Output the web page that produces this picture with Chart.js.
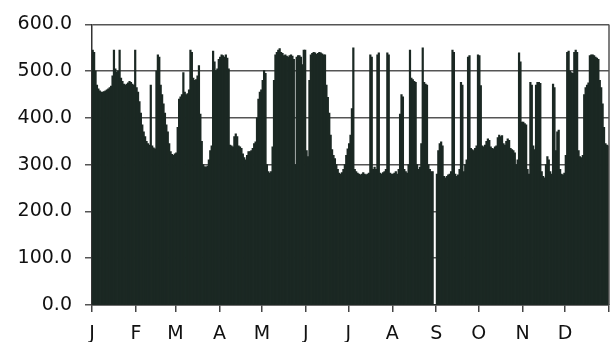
<!DOCTYPE html>
<html>
<head>
<meta charset="utf-8">
<script src="https://cdn.jsdelivr.net/npm/chart.js@4/dist/chart.umd.min.js"></script>
<style>
  html, body { margin: 0; padding: 0; background: #fff; }
</style>
</head>
<body>
<canvas id="grafico" width="611" height="342"></canvas>
<script>
// valores diarios, um array por mes
const jan = [545, 540, 500, 470, 462, 458, 455, 455, 456, 458, 460, 462, 465, 468, 490, 545, 505, 498, 500, 545, 485, 478, 472, 470, 472, 475, 478, 476, 472, 470, 545];
const fev = [465, 455, 435, 410, 385, 370, 360, 350, 345, 342, 470, 340, 336, 334, 500, 535, 530, 470, 450, 430, 410, 385, 370, 345, 328, 322, 320, 323];
const mar = [325, 380, 440, 445, 450, 497, 455, 450, 452, 460, 545, 540, 485, 480, 482, 490, 512, 408, 350, 300, 296, 295, 297, 310, 330, 340, 543, 520, 501, 505, 525];
const abr = [530, 535, 533, 530, 535, 528, 505, 342, 340, 338, 360, 366, 360, 340, 338, 335, 323, 315, 310, 320, 328, 328, 330, 335, 345, 349, 400, 440, 455, 460];
const mai = [480, 501, 495, 300, 285, 282, 285, 338, 480, 535, 540, 545, 548, 540, 538, 533, 535, 532, 530, 533, 535, 532, 525, 300, 530, 533, 533, 530, 514, 545, 545];
const jun = [330, 317, 480, 535, 538, 540, 539, 536, 538, 540, 539, 537, 535, 535, 470, 444, 410, 363, 332, 320, 313, 300, 290, 282, 280, 283, 290, 300, 320, 334];
const jul = [345, 363, 420, 550, 290, 285, 282, 280, 278, 280, 283, 280, 278, 280, 282, 535, 530, 290, 295, 290, 535, 539, 282, 280, 283, 285, 290, 539, 535, 282, 280];
const ago = [280, 282, 285, 280, 290, 408, 450, 445, 290, 285, 282, 300, 545, 485, 482, 478, 476, 300, 290, 295, 345, 550, 476, 472, 470, 300, 290, 285, 285, 0, 0];
const set = [280, 330, 345, 349, 340, 275, 272, 275, 278, 280, 285, 545, 540, 280, 275, 278, 290, 476, 470, 285, 300, 310, 530, 533, 335, 332, 330, 335, 340, 535];
const out = [533, 469, 340, 338, 342, 350, 355, 352, 338, 335, 334, 338, 340, 358, 363, 360, 362, 345, 342, 350, 355, 352, 335, 332, 330, 325, 300, 310, 539, 520, 391];
const nov = [391, 388, 385, 290, 280, 476, 470, 340, 332, 470, 476, 476, 474, 285, 275, 272, 300, 317, 310, 285, 280, 472, 465, 330, 370, 374, 290, 280, 278, 282];
const dez = [320, 540, 543, 500, 497, 495, 540, 545, 540, 330, 317, 315, 320, 450, 465, 470, 475, 533, 535, 535, 533, 530, 528, 525, 480, 465, 430, 380, 345, 342, 340];

// inicio de cada mes (dia do ano) e rotulos do eixo
const inicioMes = [0, 31, 59, 90, 120, 151, 181, 212, 243, 273, 304, 334, 365];
const rotulosMes = ["J", "F", "M", "A", "M", "J", "J", "A", "S", "O", "N", "D", ""];
const ticksY = [0, 100, 200, 300, 400, 500, 600];

const dias = [].concat(jan, fev, mar, abr, mai, jun, jul, ago, set, out, nov, dez);
const pontos = dias.map((v, i) => ({ x: i + 0.5, y: v }));

const fonteEixo = { family: "'DejaVu Sans', sans-serif", size: 19 };

// borda direita da area do grafico
const bordaDireita = {
  id: "bordaDireita",
  afterDraw(chart) {
    const { ctx, chartArea } = chart;
    ctx.save();
    ctx.strokeStyle = "#555";
    ctx.lineWidth = 1.5;
    ctx.beginPath();
    ctx.moveTo(chartArea.right, chartArea.top);
    ctx.lineTo(chartArea.right, chartArea.bottom);
    ctx.stroke();
    ctx.restore();
  }
};

new Chart(document.getElementById("grafico"), {
  type: "bar",
  data: {
    datasets: [{
      data: pontos,
      backgroundColor: "#1b2823",
      borderWidth: 0,
      barPercentage: 1,
      categoryPercentage: 1,
      inflateAmount: 0.4
    }]
  },
  plugins: [bordaDireita],
  options: {
    responsive: false,
    animation: false,
    devicePixelRatio: 1,
    layout: { padding: { top: 21, right: 2, left: 0, bottom: 0 } },
    plugins: {
      legend: { display: false },
      tooltip: { enabled: false }
    },
    scales: {
      x: {
        type: "linear",
        min: 0,
        max: 365,
        offset: false,
        afterBuildTicks: (s) => { s.ticks = inicioMes.map(v => ({ value: v })); },
        // altura fixa e sem folga lateral extra dos rotulos
        afterFit: (s) => { s.height = 37; s.paddingLeft = 0; s.paddingRight = 0; },
        ticks: {
          autoSkip: false,
          maxRotation: 0,
          padding: 11,
          color: "#111",
          font: fonteEixo,
          callback: (v, i) => rotulosMes[i]
        },
        grid: { offset: false, drawOnChartArea: false, drawTicks: true, tickLength: 7, color: "#444", lineWidth: 1.5 },
        border: { display: true, color: "#333", width: 1.5 }
      },
      y: {
        min: 0,
        max: 600,
        afterBuildTicks: (s) => { s.ticks = ticksY.map(v => ({ value: v })); },
        afterFit: (s) => { s.width = 92; },
        ticks: {
          padding: 13,
          color: "#111",
          font: fonteEixo,
          callback: (v) => v.toFixed(1)
        },
        grid: { drawTicks: true, tickLength: 7, color: "#555", lineWidth: 1.5 },
        border: { display: true, color: "#333", width: 1.5 }
      }
    }
  }
});
</script>
</body>
</html>
